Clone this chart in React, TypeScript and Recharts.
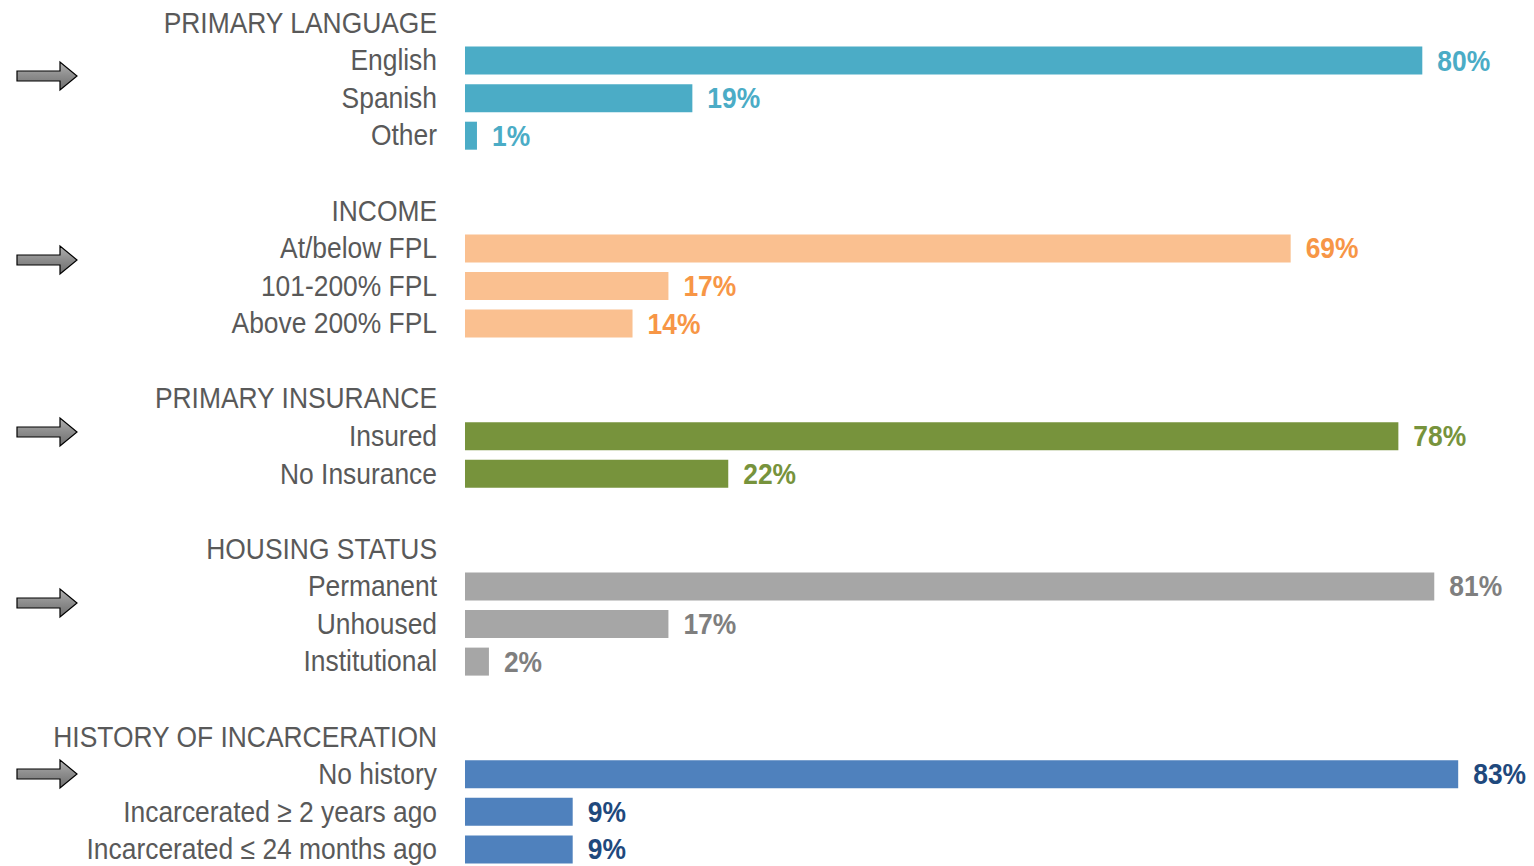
import React from "react";
import { Bar, BarChart, Cell, LabelList, XAxis, YAxis } from "recharts";

const groupTitles = ["PRIMARY LANGUAGE", "INCOME", "PRIMARY INSURANCE", "HOUSING STATUS", "HISTORY OF INCARCERATION"];
const languageLabels = ["English", "Spanish", "Other"];
const languageValues = [80, 19, 1];
const incomeLabels = ["At/below FPL", "101-200% FPL", "Above 200% FPL"];
const incomeValues = [69, 17, 14];
const insuranceLabels = ["Insured", "No Insurance"];
const insuranceValues = [78, 22];
const housingLabels = ["Permanent", "Unhoused", "Institutional"];
const housingValues = [81, 17, 2];
const incarcerationLabels = ["No history", "Incarcerated ≥ 2 years ago", "Incarcerated ≤ 24 months ago"];
const incarcerationValues = [83, 9, 9];

const barColors = ["#4BACC6", "#FAC090", "#77933C", "#A6A6A6", "#4F81BD"];
const valueColors = ["#4BACC6", "#F79646", "#77933C", "#7F7F7F", "#1F497D"];

// Arial Narrow look-alike: Liberation Sans squeezed horizontally
const FONT = "'Liberation Sans', Arial, sans-serif";
const SQUEEZE = 0.88;

type Row = { key: string; label: string; value: number | null; group: number };

const groupLabels = [languageLabels, incomeLabels, insuranceLabels, housingLabels, incarcerationLabels];
const groupValues = [languageValues, incomeValues, insuranceValues, housingValues, incarcerationValues];

const rows: Row[] = [];
groupTitles.forEach((title, g) => {
  if (g > 0) rows.push({ key: `gap${g}`, label: "", value: null, group: g });
  rows.push({ key: `head${g}`, label: title, value: null, group: g });
  groupLabels[g].forEach((label, i) => {
    rows.push({ key: `r${g}-${i}`, label, value: groupValues[g][i], group: g });
  });
});

const rowByKey: Record<string, Row> = {};
rows.forEach(r => { rowByKey[r.key] = r; });

// decorative arrows on the left side
const arrowY = [76, 260, 432, 603, 774];

const Arrow: React.FC<{ y: number }> = ({ y }) => (
  <polygon
    points={`17,${y - 5} 60,${y - 5} 60,${y - 14} 77,${y} 60,${y + 14} 60,${y + 5} 17,${y + 5}`}
    fill="url(#arrowGrad)"
    stroke="#000"
    strokeWidth={1.2}
  />
);

const Tick = (props: any) => {
  const { x, y, payload } = props;
  return (
    <text
      transform={`translate(${x},${y + 10}) scale(${SQUEEZE},1)`}
      textAnchor="end"
      fill="#595959"
      fontSize={30}
      fontFamily={FONT}
    >
      {rowByKey[payload.value].label}
    </text>
  );
};

const ValueLabel = (p: any) => {
  const row = rowByKey[p.value];
  if (!row || row.value == null) return null;
  return (
    <text
      transform={`translate(${p.x + p.width + 15},${p.y + p.height / 2 + 10}) scale(${SQUEEZE},1)`}
      fill={valueColors[row.group]}
      fontSize={30}
      fontWeight="bold"
      fontFamily={FONT}
    >
      {`${row.value}%`}
    </text>
  );
};

const App: React.FC = () => {
  return (
    <div style={{ position: "absolute", left: 0, top: 0, width: 1534, height: 866, overflow: "hidden", background: "#fff" }}>
      <BarChart
        width={1534}
        height={868}
        data={rows}
        layout="vertical"
        margin={{ top: 4, right: 4, left: 0, bottom: 0 }}
        barCategoryGap={0}
      >
        <XAxis type="number" domain={[0, 89]} hide />
        <YAxis
          type="category"
          dataKey="key"
          width={465}
          axisLine={false}
          tickLine={false}
          tick={<Tick />}
          tickMargin={22}
          interval={0}
        />
        <Bar dataKey="value" barSize={28} isAnimationActive={false}>
          {rows.map(r => (
            <Cell key={r.key} fill={barColors[r.group]} />
          ))}
          <LabelList dataKey="key" content={<ValueLabel />} />
        </Bar>
      </BarChart>
      <svg width={100} height={866} style={{ position: "absolute", left: 0, top: 0 }}>
        <defs>
          <linearGradient id="arrowGrad" x1="0" y1="0" x2="0" y2="1">
            <stop offset="0%" stopColor="#B0B0B0" />
            <stop offset="50%" stopColor="#8C8C8C" />
            <stop offset="100%" stopColor="#6E6E6E" />
          </linearGradient>
        </defs>
        {arrowY.map(y => <Arrow key={y} y={y} />)}
      </svg>
    </div>
  );
};

export default App;
